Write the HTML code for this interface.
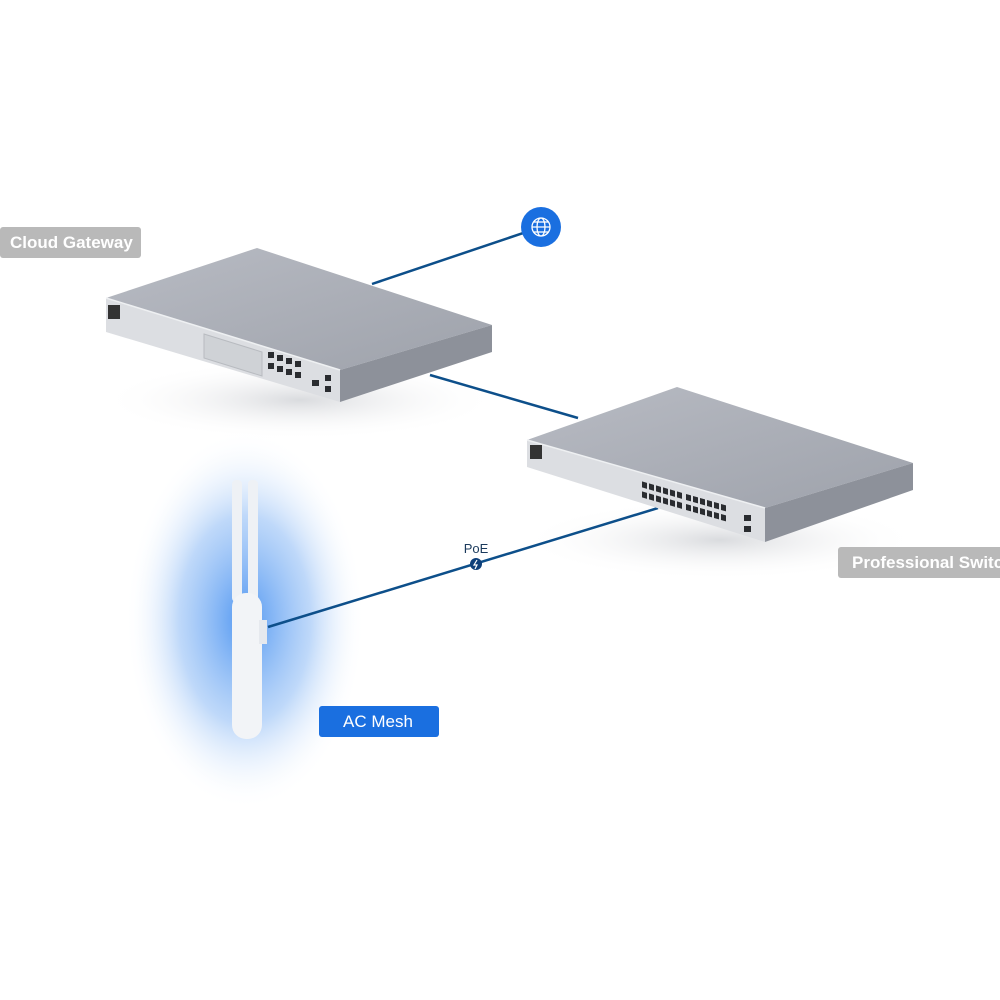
<!DOCTYPE html>
<html><head><meta charset="utf-8"><style>
html,body{margin:0;padding:0;background:#fff;}
body{width:1000px;height:1000px;overflow:hidden;position:relative;font-family:"Liberation Sans",sans-serif;}
.lbl{position:absolute;color:#fff;font-weight:bold;font-size:17px;line-height:31px;border-radius:3px;padding:0 0 0 10px;box-sizing:border-box;}
</style></head><body>
<svg width="1000" height="1000" viewBox="0 0 1000 1000" style="position:absolute;left:0;top:0">
<defs>
<radialGradient id="glow" cx="0.5" cy="0.5" r="0.5">
<stop offset="0" stop-color="#3d8bf0" stop-opacity="0.9"/>
<stop offset="0.55" stop-color="#8ab9f5" stop-opacity="0.55"/>
<stop offset="1" stop-color="#ffffff" stop-opacity="0"/>
</radialGradient>
<linearGradient id="top1" x1="0" y1="0" x2="1" y2="1">
<stop offset="0" stop-color="#b8bbc3"/><stop offset="1" stop-color="#9ea2ab"/>
</linearGradient>
<radialGradient id="shadow" cx="0.5" cy="0.5" r="0.5">
<stop offset="0" stop-color="#d0d2d6" stop-opacity="0.8"/><stop offset="1" stop-color="#fff" stop-opacity="0"/>
</radialGradient>
</defs>
<ellipse cx="245" cy="620" rx="120" ry="190" fill="url(#glow)"/>
<ellipse cx="300" cy="400" rx="200" ry="40" fill="url(#shadow)"/>
<ellipse cx="720" cy="540" rx="200" ry="40" fill="url(#shadow)"/>
<line x1="541" y1="227" x2="372" y2="284" stroke="#0d4f8a" stroke-width="2.5"/>
<line x1="430" y1="375" x2="578" y2="418" stroke="#0d4f8a" stroke-width="2.5"/>
<line x1="658" y1="508" x2="268" y2="627" stroke="#0d4f8a" stroke-width="2.5"/>
<!-- gateway -->
<polygon points="106,298 257,248 492,325 340,370" fill="url(#top1)"/>
<polygon points="106,298 340,370 340,402 106,332" fill="#dcdee2"/>
<polygon points="340,370 492,325 492,352 340,402" fill="#8d919a"/>
<line x1="106" y1="298" x2="340" y2="370" stroke="#eef0f2" stroke-width="1.5"/>
<rect x="108" y="305" width="12" height="14" fill="#333"/>
<polygon points="204,334 262,352 262,376 204,358" fill="#cfd2d6" stroke="#b8bbc0"/>
<g fill="#2a2c30">
<rect x="268" y="352" width="6" height="6"/><rect x="277" y="355" width="6" height="6"/><rect x="286" y="358" width="6" height="6"/><rect x="295" y="361" width="6" height="6"/>
<rect x="268" y="363" width="6" height="6"/><rect x="277" y="366" width="6" height="6"/><rect x="286" y="369" width="6" height="6"/><rect x="295" y="372" width="6" height="6"/>
<rect x="312" y="380" width="7" height="6"/><rect x="325" y="375" width="6" height="6"/><rect x="325" y="386" width="6" height="6"/>
</g>
<!-- switch -->
<polygon points="527,440 677,387 913,463 765,508" fill="url(#top1)"/>
<polygon points="527,440 765,508 765,542 527,467" fill="#dcdee2"/>
<polygon points="765,508 913,463 913,490 765,542" fill="#8d919a"/>
<line x1="527" y1="440" x2="765" y2="508" stroke="#eef0f2" stroke-width="1.5"/>
<rect x="530" y="445" width="12" height="14" fill="#333"/>
<g fill="#2a2c30" transform="matrix(1 0.2857 0 1 0 0)">
<rect x="642" y="298" width="5" height="6"/><rect x="649" y="298" width="5" height="6"/><rect x="656" y="298" width="5" height="6"/><rect x="663" y="298" width="5" height="6"/><rect x="670" y="298" width="5" height="6"/><rect x="677" y="298" width="5" height="6"/>
<rect x="686" y="298" width="5" height="6"/><rect x="693" y="298" width="5" height="6"/><rect x="700" y="298" width="5" height="6"/><rect x="707" y="298" width="5" height="6"/><rect x="714" y="298" width="5" height="6"/><rect x="721" y="298" width="5" height="6"/>
<rect x="642" y="308" width="5" height="6"/><rect x="649" y="308" width="5" height="6"/><rect x="656" y="308" width="5" height="6"/><rect x="663" y="308" width="5" height="6"/><rect x="670" y="308" width="5" height="6"/><rect x="677" y="308" width="5" height="6"/>
<rect x="686" y="308" width="5" height="6"/><rect x="693" y="308" width="5" height="6"/><rect x="700" y="308" width="5" height="6"/><rect x="707" y="308" width="5" height="6"/><rect x="714" y="308" width="5" height="6"/><rect x="721" y="308" width="5" height="6"/>
</g>
<g fill="#2a2c30"><rect x="744" y="515" width="7" height="6"/><rect x="744" y="526" width="7" height="6"/></g>
<!-- AP -->
<rect x="232" y="480" width="10" height="122" rx="4" fill="#eef1f5"/>
<rect x="248" y="480" width="10" height="122" rx="4" fill="#eef1f5"/>
<rect x="232" y="593" width="30" height="146" rx="14" fill="#f2f4f7"/>
<rect x="259" y="620" width="8" height="24" fill="#e6e9ee"/>
<!-- globe -->
<circle cx="541" cy="227" r="20" fill="#1a6fe0"/>
<g fill="none" stroke="#fff" stroke-width="1.3">
<circle cx="541" cy="227" r="9"/><ellipse cx="541" cy="227" rx="4" ry="9"/>
<line x1="532" y1="227" x2="550" y2="227"/><line x1="534" y1="222" x2="548" y2="222"/><line x1="534" y1="232" x2="548" y2="232"/>
</g>
<circle cx="476" cy="564" r="6" fill="#0d3f7a"/>
<path d="M477,560 L474,565 L477,565 L475,569" stroke="#fff" stroke-width="1.2" fill="none"/>
<text x="476" y="553" font-family="Liberation Sans,sans-serif" font-size="13" fill="#1b3a5c" text-anchor="middle">PoE</text>
</svg>
<div class="lbl" style="left:0;top:227px;width:141px;height:31px;background:#b9b9b9;">Cloud Gateway</div>
<div class="lbl" style="left:838px;top:547px;width:170px;height:31px;background:#b9b9b9;white-space:nowrap;overflow:hidden;padding-left:14px;">Professional Switch</div>
<div class="lbl" style="left:319px;top:706px;width:120px;height:31px;background:#1a6fe0;padding-left:24px;font-weight:normal;">AC Mesh</div>
</body></html>
